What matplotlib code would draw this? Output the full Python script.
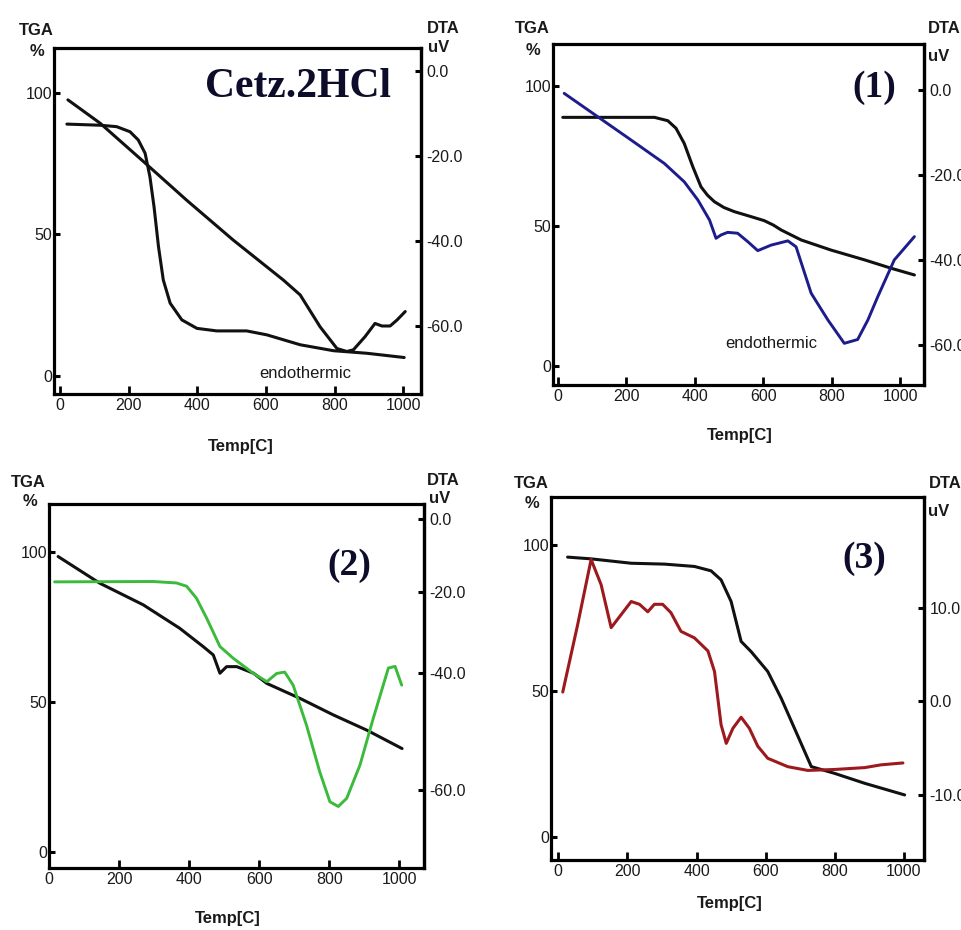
import numpy as np
import matplotlib
matplotlib.use('Agg')
import matplotlib.pyplot as plt
from matplotlib import font_manager
from matplotlib.ticker import FormatStrFormatter

W, H = 962, 930

# ---- data (temperature in C) ----
# panel "Cetz.2HCl"
p1_tga_temp = [20, 117, 165, 204, 228, 248, 262, 274, 287, 301, 321, 355, 399, 457, 544, 603, 700, 797, 894, 1003]
p1_tga = [89.0, 88.6, 88.1, 86.3, 83.4, 78.7, 70.4, 59.8, 45.7, 33.9, 25.7, 19.8, 16.8, 15.9, 15.9, 14.5, 11.0, 8.9, 8.0, 6.5]
p1_dta_temp = [23, 117, 243, 369, 505, 651, 700, 758, 807, 836, 855, 889, 918, 938, 962, 982, 1006]
p1_dta = [-6.8, -12.3, -21.3, -30.4, -39.8, -49.2, -52.7, -60.2, -65.3, -66.0, -65.6, -62.5, -59.4, -60.0, -60.0, -58.6, -56.6]

# panel (1)
p2_tga_temp = [14, 282, 321, 345, 369, 394, 418, 437, 457, 485, 516, 560, 603, 630, 652, 711, 798, 896, 974, 1042]
p2_tga = [88.8, 88.8, 87.6, 84.9, 79.5, 71.2, 64.0, 61.0, 58.7, 56.6, 55.1, 53.5, 51.9, 50.3, 48.6, 45.0, 41.4, 37.9, 34.9, 32.5]
p2_dta_temp = [18, 116, 214, 311, 369, 409, 443, 462, 477, 496, 525, 555, 584, 623, 672, 696,
               740, 789, 837, 876, 906, 935, 983, 1042]
p2_dta = [-0.8, -6.3, -11.8, -17.3, -21.6, -25.9, -30.6, -34.9, -34.1, -33.5, -33.7, -35.7, -37.8, -36.5,
          -35.5, -36.9, -47.8, -54.1, -59.6, -58.7, -54.1, -48.6, -40.0, -34.5]

# panel (2)
p3_tga_temp = [26, 145, 269, 373, 440, 469, 488, 507, 536, 584, 622, 717, 812, 908, 1008]
p3_tga = [98.5, 89.6, 82.4, 74.6, 68.5, 65.7, 59.6, 61.8, 61.8, 59.6, 56.2, 51.2, 45.7, 40.6, 34.5]
p3_dta_temp = [16, 297, 364, 393, 421, 450, 488, 526, 584, 622, 650, 673, 697, 735, 773, 802,
               826, 850, 888, 926, 969, 988, 1007]
p3_dta = [-17.3, -17.2, -17.6, -18.5, -21.6, -26.5, -33.5, -36.4, -40.1, -41.5, -40.1, -39.8, -42.1,
          -48.9, -56.9, -62.0, -62.8, -61.4, -55.7, -47.7, -38.8, -38.4, -42.1]

# panel (3)
p4_tga_temp = [27, 95, 211, 307, 394, 442, 471, 500, 529, 558, 606, 645, 683, 732, 799, 886, 1002]
p4_tga = [95.8, 95.2, 93.7, 93.4, 92.6, 91.1, 88.0, 80.6, 66.9, 63.4, 56.6, 47.4, 37.2, 24.0, 21.7, 18.3, 14.3]
p4_dta_temp = [13, 56, 95, 124, 153, 182, 211, 235, 259, 278, 302, 326, 355, 394, 433, 452, 471,
               486, 505, 529, 553, 577, 606, 664, 722, 799, 886, 934, 997]
p4_dta = [1.0, 8.2, 15.2, 12.5, 7.9, 9.3, 10.7, 10.4, 9.6, 10.4, 10.4, 9.5, 7.5, 6.8, 5.4, 3.2, -2.5,
          -4.5, -2.9, -1.7, -2.9, -4.8, -6.1, -7.0, -7.4, -7.3, -7.1, -6.8, -6.6]

temp_ticks = [0, 200, 400, 600, 800, 1000]
tga_ticks = [0, 50, 100]

# the printed DTA ticks of panel (2) are unevenly spaced; knots give their relative spacing
p3_knots_uv = [-100, -60, -40, -20, 0, 40]
p3_knots_off = [-505, -271, -154, -73, 0, 146]


def p3_fwd(v):
    return np.interp(v, p3_knots_uv, p3_knots_off)


def p3_inv(y):
    return np.interp(y, p3_knots_off, p3_knots_uv)


names = {f.name for f in font_manager.fontManager.ttflist}
if 'Liberation Sans Narrow' in names:
    SANS, TICK_FS, LAB_FS, END_FS = 'Liberation Sans Narrow', 13, 13.5, 14
else:
    SANS, TICK_FS, LAB_FS, END_FS = 'Liberation Sans', 11.5, 12, 12
SERIF = 'Liberation Serif'

plt.rcParams['axes.unicode_minus'] = False
plt.rcParams['font.family'] = [SANS, 'DejaVu Sans']

fig = plt.figure(figsize=(W / 100, H / 100), dpi=100)


def box(l, t, r, b):
    return [l / W, 1 - b / H, (r - l) / W, (b - t) / H]


def ftext(x, y, s, **kw):
    fig.text(x / W, 1 - y / H, s, **kw)


def panel(frame, xlim, tga_lim, dta_lim, dta_ticks, tga_x, tga_y, dta_x, dta_y,
          tga_color='#111111', dta_color='#111111', dta_lw=2.2, scale=None):
    ax = fig.add_axes(box(*frame))
    ax.plot(tga_x, tga_y, color=tga_color, lw=2.2, solid_joinstyle='round', solid_capstyle='round')
    ax.set_xlim(xlim)
    ax.set_ylim(tga_lim)
    ax.set_xticks(temp_ticks)
    ax.set_yticks(tga_ticks)
    for s in ax.spines.values():
        s.set_linewidth(2.3)
    ax.tick_params(axis='x', direction='in', length=6, width=2, pad=3, labelsize=TICK_FS,
                   labelcolor='#1a1a1a')
    ax.tick_params(axis='y', direction='in', length=4, width=2.2, pad=1, labelsize=TICK_FS,
                   labelcolor='#1a1a1a', right=False)

    ax2 = ax.twinx()
    if scale is not None:
        ax2.set_yscale('function', functions=scale)
    ax2.plot(dta_x, dta_y, color=dta_color, lw=dta_lw, solid_joinstyle='round', solid_capstyle='round')
    ax2.set_ylim(dta_lim)
    ax2.set_yticks(dta_ticks)
    ax2.yaxis.set_major_formatter(FormatStrFormatter('%.1f'))
    ax2.yaxis.set_minor_locator(matplotlib.ticker.NullLocator())
    for k, s in ax2.spines.items():
        s.set_visible(k == 'right')
        s.set_linewidth(2.3)
    ax2.tick_params(axis='y', direction='in', length=4, width=2.2, pad=4, labelsize=TICK_FS,
                    labelcolor='#1a1a1a')
    return ax, ax2


# panel Cetz.2HCl (top left)
panel((54, 48, 421, 394), (-17.5, 1052), (-6.4, 115.9), (-76, 5.4), [0, -20, -40, -60],
      p1_tga_temp, p1_tga, p1_dta_temp, p1_dta)
# panel (1) (top right)
panel((553, 44, 924, 385), (-14.6, 1070), (-6.8, 115), (-69.4, 10.8), [0, -20, -40, -60],
      p2_tga_temp, p2_tga, p2_dta_temp, p2_dta, dta_color='#1c1c8c', dta_lw=2.1)
# panel (2) (bottom left)
panel((49, 504, 424, 868), (0, 1070.6), (-5.3, 116), (-73.3, 4.0), [0, -20, -40, -60],
      p3_tga_temp, p3_tga, p3_dta_temp, p3_dta, dta_color='#3cba3c', dta_lw=2.1,
      scale=(p3_fwd, p3_inv))
# panel (3) (bottom right)
panel((551, 497, 924, 860), (-21, 1058), (-8, 116.4), (-17.0, 21.9), [10, 0, -10],
      p4_tga_temp, p4_tga, p4_dta_temp, p4_dta, dta_color='#9c1a1e', dta_lw=2.2)

# axis captions
bold = dict(fontsize=LAB_FS, fontweight='bold', color='#1a1a1a', ha='center', va='baseline')
for tx, ty, px, py, dx, dy, ux, uy, mx, my in [
        (36, 35, 37.5, 56, 443, 33, 439, 52, 241, 451),
        (532.5, 33, 533.5, 55, 944.5, 33, 938.5, 61, 739.5, 440),
        (28, 487, 30, 506, 443, 485, 440, 503, 228, 923),
        (531, 488, 532, 508, 945, 488, 938.5, 516, 729.5, 908)]:
    ftext(tx, ty, 'TGA', **bold)
    ftext(px, py, '%', **bold)
    ftext(dx, dy, 'DTA', **bold)
    ftext(ux, uy, 'uV', **bold)
    ftext(mx, my, 'Temp[C]', **bold)

serif = dict(family=SERIF, fontweight='bold', color='#0d0d2b', ha='center', va='baseline')
ftext(298.5, 96.7, 'Cetz.2HCl', fontsize=30, **serif)
ftext(874.5, 96.7, '(1)', fontsize=27, **serif)
ftext(349, 575, '(2)', fontsize=27, **serif)
ftext(864.5, 568, '(3)', fontsize=27, **serif)

ftext(305, 378, 'endothermic', fontsize=END_FS, color='#1a1a1a', ha='center', va='baseline')
ftext(771.5, 348, 'endothermic', fontsize=END_FS, color='#1a1a1a', ha='center', va='baseline')

fig.savefig('out.png', dpi=100)
